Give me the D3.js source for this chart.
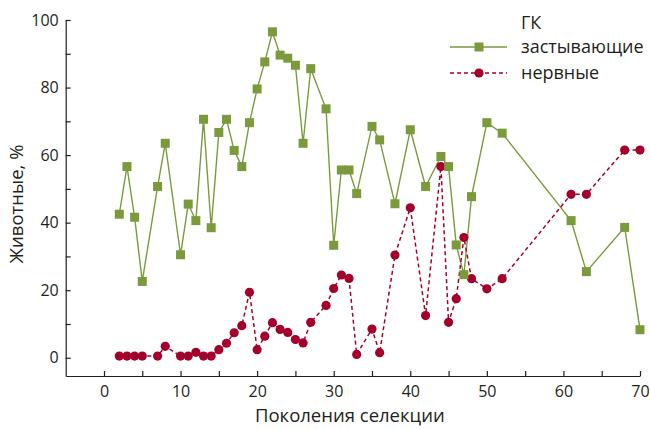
<!DOCTYPE html>
<html><head><meta charset="utf-8">
<script src="https://cdn.jsdelivr.net/npm/d3@7"></script>
<style>
body{margin:0;background:#fff;}
svg{display:block;}
text{font-family:"Open Sans",sans-serif;fill:#231f20;}
</style></head>
<body>
<svg id="chart" width="650" height="429"></svg>
<script>
const generations = [2,3,4,5,7,8,10,11,12,13,14,15,16,17,18,19,20,21,22,23,24,25,26,27,29,30,31,32,33,35,36,38,40,42,44,45,46,47,48,50,52,61,63,68,70];
const freezing = [42.5,56.6,41.6,22.6,50.7,63.5,30.5,45.5,40.6,70.6,38.5,66.7,70.6,61.4,56.6,69.6,79.6,87.6,96.5,89.6,88.7,86.6,63.5,85.6,73.7,33.3,55.6,55.6,48.6,68.5,64.5,45.6,67.5,50.7,59.6,56.6,33.4,24.6,47.7,69.6,66.5,40.6,25.5,38.6,8.3];
const nervous = [0.5,0.5,0.5,0.5,0.5,3.4,0.5,0.5,1.6,0.5,0.5,2.4,4.3,7.4,9.5,19.4,2.4,6.4,10.4,8.4,7.5,5.4,4.4,10.5,15.5,20.5,24.5,23.5,1.0,8.5,1.5,30.4,44.4,12.5,56.6,10.5,17.5,35.6,23.4,20.4,23.4,48.4,48.4,61.5,61.5];
const xTicks = [0,10,20,30,40,50,60,70];
const xMinorTicks = [5,15,25,35,45,55,65];
const yTicks = [0,20,40,60,80,100];
const yMinorTicks = [10,30,50,70,90];
const legendTitle = "ГК";
const seriesNames = ["застывающие","нервные"];
const xTitle = "Поколения селекции";
const yTitle = "Животные, %";

const green = "#7b9a3c", red = "#a3002c";
const svg = d3.select("#chart");
const pLeft = 65.7, pRight = 640, pTop = 20, pBottom = 376;
const x = d3.scaleLinear().domain([-5,70]).range([pLeft,pRight]);
const y = d3.scaleLinear().domain([-5.4,100]).range([pBottom,pTop]);

// axes
svg.append("g").attr("transform",`translate(0,${pBottom})`)
  .call(d3.axisBottom(x).tickValues(xTicks).tickSizeInner(-5).tickSizeOuter(0).tickPadding(10));
svg.append("g").attr("transform",`translate(0,${pBottom})`)
  .call(d3.axisBottom(x).tickValues(xMinorTicks).tickSizeInner(-5).tickSizeOuter(0).tickFormat(""))
  .select(".domain").remove();
svg.append("g").attr("transform",`translate(${pLeft},0)`)
  .call(d3.axisLeft(y).tickValues(yTicks).tickSizeInner(-5).tickSizeOuter(0).tickPadding(7));
svg.append("g").attr("transform",`translate(${pLeft},0)`)
  .call(d3.axisLeft(y).tickValues(yMinorTicks).tickSizeInner(-5).tickSizeOuter(0).tickFormat(""))
  .select(".domain").remove();
svg.selectAll(".domain, .tick line").attr("stroke","#231f20").attr("stroke-width",1.2);
svg.selectAll(".tick text").attr("font-family","\"Open Sans\",sans-serif").attr("font-size",16).attr("fill","#231f20");

// titles
svg.append("text").attr("x",(pLeft+pRight)/2-3).attr("y",422).attr("text-anchor","middle").attr("font-size",18.5).text(xTitle);
svg.append("text").attr("transform","translate(23,204) rotate(-90)").attr("text-anchor","middle").attr("font-size",18.5).text(yTitle);

// lines
const lineF = d3.line().x((d,i)=>x(generations[i])).y(d=>y(d));
svg.append("path").datum(freezing).attr("d",lineF).attr("fill","none").attr("stroke",green).attr("stroke-width",1.4);
svg.append("path").datum(nervous).attr("d",lineF).attr("fill","none").attr("stroke",red).attr("stroke-width",1.5).attr("stroke-dasharray","4,3");

// markers
svg.append("g").selectAll("circle").data(nervous).join("circle")
  .attr("cx",(d,i)=>x(generations[i])).attr("cy",d=>y(d)).attr("r",4.6).attr("fill",red);
svg.append("g").selectAll("rect").data(freezing).join("rect")
  .attr("x",(d,i)=>x(generations[i])-4.5).attr("y",d=>y(d)-4.5).attr("width",9).attr("height",9).attr("fill",green);

// legend
const lg = svg.append("g");
lg.append("text").attr("x",521).attr("y",29).attr("font-size",18).text(legendTitle);
lg.append("line").attr("x1",450).attr("x2",507).attr("y1",47).attr("y2",47).attr("stroke",green).attr("stroke-width",1.4);
lg.append("rect").attr("x",474.5).attr("y",42.5).attr("width",9).attr("height",9).attr("fill",green);
lg.append("text").attr("x",521).attr("y",53).attr("font-size",18).text(seriesNames[0]);
lg.append("line").attr("x1",450).attr("x2",507).attr("y1",73).attr("y2",73).attr("stroke",red).attr("stroke-width",1.5).attr("stroke-dasharray","4,3");
lg.append("circle").attr("cx",479).attr("cy",73).attr("r",4.6).attr("fill",red);
lg.append("text").attr("x",521).attr("y",79).attr("font-size",18).text(seriesNames[1]);
</script>
</body></html>
